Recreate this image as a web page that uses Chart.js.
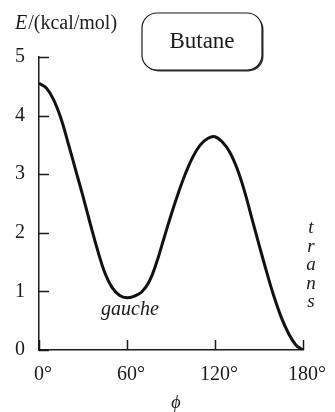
<!doctype html>
<html>

<head>
    <title>Butane torsion</title>
    <script src="https://cdn.jsdelivr.net/npm/chart.js@4/dist/chart.umd.min.js"></script>
    <style>
        body { margin: 0; background: #fff; }
    </style>
</head>

<body>
    <canvas id="chart-area" width="335" height="412"></canvas>
    <script>
    // torsion angle (deg) and energy (kcal/mol)
    var angles = [0, 5, 10, 15, 20, 25, 30, 35, 40, 45, 50, 55, 60, 65, 70, 75, 80, 85, 90,
                  95, 100, 105, 110, 115, 120, 125, 130, 135, 140, 145, 150, 155, 160, 165, 170, 175, 180];
    var energies = [4.55, 4.47, 4.27, 3.95, 3.52, 3.07, 2.62, 2.15, 1.70, 1.31, 1.06, 0.93, 0.89, 0.92, 0.99, 1.16, 1.48, 1.89, 2.30,
                    2.68, 3.02, 3.30, 3.50, 3.61, 3.64, 3.55, 3.38, 3.10, 2.72, 2.26, 1.80, 1.35, 0.93, 0.57, 0.29, 0.09, 0.00];
    var xTicks = [0, 60, 120, 180];
    var yTicks = [0, 1, 2, 3, 4, 5];

    var serif = "'Liberation Serif', 'Times New Roman', serif";
    var ink = '#1a1a1a';

    var points = angles.map(function(a, i) {
        return { x: a, y: energies[i] };
    });

    // inward tick marks plus the text annotations
    var decor = {
        id: 'decor',
        afterDraw: function(chart) {
            var ctx = chart.ctx;
            var xs = chart.scales.x, ys = chart.scales.y;
            var area = chart.chartArea;
            ctx.save();
            ctx.strokeStyle = ink;
            ctx.lineWidth = 1.5;
            ctx.beginPath();
            yTicks.forEach(function(v) {
                var py = Math.round(ys.getPixelForValue(v)) + 0.5;
                ctx.moveTo(area.left, py);
                ctx.lineTo(area.left + 10, py);
            });
            xTicks.forEach(function(v) {
                var px = Math.round(xs.getPixelForValue(v)) + 0.5;
                ctx.moveTo(px, area.bottom);
                ctx.lineTo(px, area.bottom - 10);
            });
            ctx.stroke();

            // y axis label
            ctx.fillStyle = ink;
            ctx.textBaseline = 'alphabetic';
            ctx.textAlign = 'left';
            ctx.font = 'italic 20px ' + serif;
            ctx.fillText('E', 15, 29);
            var w = ctx.measureText('E').width;
            ctx.font = '20px ' + serif;
            ctx.fillText('/(kcal/mol)', 15 + w + 1, 29);

            // x axis label
            ctx.textAlign = 'center';
            ctx.font = 'italic 18px ' + serif;
            ctx.fillText('ϕ', 176, 408);

            // "Butane" box with a little drop shadow
            ctx.lineWidth = 1.2;
            ctx.fillStyle = '#333';
            ctx.beginPath();
            ctx.roundRect(143.5, 14.5, 120, 57, 15);
            ctx.fill();
            ctx.fillStyle = '#fff';
            ctx.beginPath();
            ctx.roundRect(142, 13, 120, 57, 15);
            ctx.fill();
            ctx.stroke();
            ctx.fillStyle = ink;
            ctx.font = '23px ' + serif;
            ctx.fillText('Butane', 202, 48);

            // conformer labels
            ctx.textAlign = 'left';
            ctx.font = 'italic 20px ' + serif;
            ctx.fillText('gauche', 101, 315);
            ctx.textAlign = 'center';
            ctx.font = 'italic 19px ' + serif;
            'trans'.split('').forEach(function(ch, i) {
                ctx.fillText(ch, 311, 233 + i * 18.5);
            });
            ctx.restore();
        }
    };

    var config = {
        type: 'line',
        data: {
            datasets: [{
                data: points,
                borderColor: '#111',
                borderWidth: 3,
                pointRadius: 0,
                fill: false,
                tension: 0.4
            }]
        },
        options: {
            responsive: false,
            devicePixelRatio: 1,
            animation: false,
            layout: { padding: { left: 0, top: 57, right: 25, bottom: 0 } },
            plugins: {
                legend: { display: false },
                tooltip: { enabled: false }
            },
            scales: {
                x: {
                    type: 'linear',
                    min: 0,
                    max: 180,
                    grid: { display: false, drawTicks: false },
                    border: { display: true, color: ink, width: 1.5 },
                    afterBuildTicks: function(s) {
                        s.ticks = xTicks.map(function(v) { return { value: v }; });
                    },
                    afterFit: function(s) { s.height = 62; },
                    ticks: {
                        padding: 13,
                        labelOffset: 4,
                        maxRotation: 0,
                        color: ink,
                        font: { family: serif, size: 20 },
                        callback: function(v) { return v + '°'; }
                    }
                },
                y: {
                    min: 0,
                    max: 5,
                    grid: { display: false, drawTicks: false },
                    border: { display: true, color: ink, width: 1.5 },
                    afterBuildTicks: function(s) {
                        s.ticks = yTicks.map(function(v) { return { value: v }; });
                    },
                    afterFit: function(s) { s.width = 39; },
                    ticks: {
                        padding: 14,
                        color: ink,
                        font: { family: serif, size: 20 }
                    }
                }
            }
        },
        plugins: [decor]
    };

    window.onload = function() {
        var ctx = document.getElementById("chart-area").getContext("2d");
        window.myLine = new Chart(ctx, config);
    };
    </script>
</body>

</html>
